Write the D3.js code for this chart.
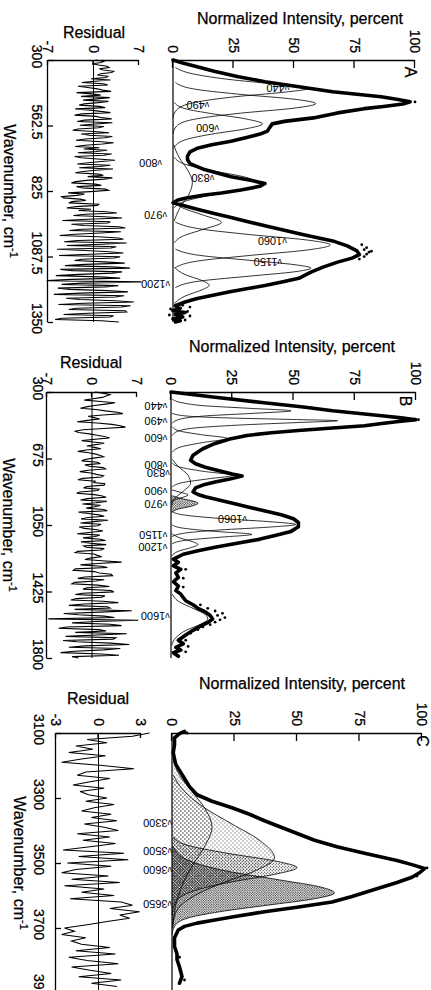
<!DOCTYPE html>
<html lang="en">
  <head>
    <meta charset="UTF-8" />
    <title>Raman band fits, panels A-C</title>
    <script src="https://d3js.org/d3.v7.min.js"></script>
    <style>
      html, body { margin: 0; padding: 0; background: #fff; }
      text { font-family: "Liberation Sans", Arial, sans-serif; fill: #000; }
    </style>
  </head>
  <body>
    <svg id="fig" width="431" height="990"></svg>
    <script>
      // ---- data (wavenumber, normalized intensity) ----
      const intTicks = [0, 25, 50, 75, 100];
      const wnTicksA = [300, 562.5, 825, 1087.5, 1350];
      const wnTicksB = [300, 675, 1050, 1425, 1800];
      const wnTicksC = [3100, 3300, 3500, 3700, 3900];

      const specA = [[300,0],[312,4],[327,10],[345,17],[367,27],[387,38],[407,52],[427,66],[437,76],[447,86],[458,93],[467,98],[476,95],[486,87],[495,79],[512,68],[532,58],[546,46],[556,41],[570,40],[585,39],[597,36],[612,30],[626,24],[640,16],[654,10],[668,7],[685,6],[700,6],[715,7],[727,10],[739,13],[755,19],[768,24],[782,32],[795,38],[806,36],[821,28],[833,20],[841,13],[852,6],[861,2],[872,0],[885,5],[898,10],[915,17],[931,24],[948,31],[964,38],[982,46],[1000,54],[1025,66],[1045,72],[1065,76],[1080,77],[1094,74],[1110,68],[1130,62],[1150,57],[1175,52],[1190,45],[1204,38],[1216,31],[1228,24],[1242,17],[1256,10],[1270,5],[1285,1],[1295,3],[1305,0],[1312,5],[1320,1],[1330,4],[1338,0],[1345,3],[1350,1]];
      const dotsA = [[468,100],[1040,78],[1052,80],[1060,79],[1070,81],[1078,80],[1088,79],[1098,77],[1066,82],[1283,4],[1290,7],[1300,2],[1308,6],[1318,3],[1326,7],[1334,2],[1342,5],[1298,-1],[1322,-1.5]];

      const specB = [[300,0],[330,18],[361,38],[385,54],[406,66],[420,76],[434,86],[446,94],[456,100],[466,93],[478,86],[490,79],[503,66],[517,52],[530,41],[545,31],[565,24],[590,18],[620,13],[657,9],[685,8],[705,10],[724,14],[745,20],[762,25],[774,29],[790,24],[807,18],[825,13],[841,10],[863,9],[878,11],[891,14],[910,20],[930,26],[947,31],[970,38],[992,45],[1015,50],[1036,52],[1060,52],[1086,49],[1110,42],[1131,36],[1153,27],[1175,18],[1195,11],[1215,5],[1243,1],[1260,3],[1280,1],[1300,4],[1320,2],[1345,3],[1370,1],[1395,3],[1420,2],[1440,4],[1460,5],[1477,6],[1500,9],[1520,11],[1540,14],[1560,16],[1580,17],[1600,15],[1620,12],[1644,9],[1670,6],[1700,3],[1720,5],[1740,2],[1755,4],[1770,1],[1790,3]];
      const dotsB = [[456,101],[1500,12],[1520,15],[1535,18],[1548,21],[1560,19],[1572,22],[1585,20],[1598,18],[1612,16],[1625,13],[1640,11],[1660,8],[1700,6],[1735,7],[1765,6],[1300,6],[1350,5],[1400,5]];

      const specC = [[3095,5],[3102,3],[3115,1],[3137,1],[3160,0.5],[3180,1],[3197,1.5],[3215,3],[3240,5],[3265,7],[3290,10],[3310,16],[3330,24],[3350,31],[3370,37],[3400,47],[3430,57],[3450,66],[3470,77],[3492,90],[3505,96],[3517,101],[3530,99],[3544,96],[3560,90],[3584,80],[3603,72],[3620,64],[3636,50],[3650,37],[3666,24],[3677,16],[3685,10],[3695,5],[3706,2.5],[3730,1],[3757,1],[3780,2],[3797,2],[3820,3],[3849,4],[3870,3]];
      const dotsC = [[3515,102],[3540,98],[3100,6],[3860,5],[3790,3]];

      // fitted components
      const a440 = [[330,1],[355,8],[380,25],[398,44],[414,56],[430,45],[447,26],[470,9],[500,1.5],[530,0]];
      const a490 = [[390,1],[415,8],[437,27],[457,50],[475,59],[493,50],[513,28],[537,9],[565,1.5],[595,0]];
      const a600 = [[470,0.5],[495,5],[515,16],[536,30],[556,37],[576,30],[597,16],[620,5],[650,0.5]];
      const a800 = [[690,0.5],[718,5],[743,16],[770,30],[796,36],[820,29],[843,15],[866,5],[892,0.5]];
      const a830 = [[640,0.3],[690,2.5],[740,6],[790,8],[840,6.5],[890,3],[945,0.5]];
      const a970 = [[868,0.5],[893,4],[920,12],[951,20],[980,12],[1006,4],[1032,0.5]];
      const a1060 = [[950,1],[975,10],[1000,32],[1021,55],[1041,65],[1062,55],[1083,32],[1106,10],[1132,1]];
      const a1150 = [[1058,1],[1083,11],[1104,33],[1120,50],[1134,57],[1149,50],[1165,33],[1186,11],[1212,1]];
      const a1200 = [[1130,0.5],[1160,5],[1184,12],[1203,15],[1221,12],[1246,5],[1276,0.5]];

      const b440 = [[340,0.5],[362,5],[378,14],[392,32],[406,49],[420,34],[434,15],[452,4],[476,0.5]];
      const b490 = [[420,0.5],[435,6],[447,25],[455,50],[462,68],[472,52],[485,30],[500,12],[520,3],[545,0.5]];
      const b600 = [[495,0.5],[518,3],[540,12],[562,23],[585,13],[610,4],[640,0.5]];
      const b800 = [[700,0.5],[725,4],[747,13],[770,25],[790,15],[810,5],[835,0.5]];
      const b830 = [[680,0.5],[720,3],[770,7],[815,8],[860,5],[900,1.5],[940,0.3]];
      const b900 = [[852,0.3],[866,4],[880,7],[893,5],[905,2],[917,0.3]];
      const b970 = [[885,0.5],[900,4],[915,9],[928,11],[945,8],[960,3],[978,0.3]];
      const b1060 = [[975,0.5],[995,6],[1015,22],[1033,42],[1047,51],[1062,40],[1078,20],[1095,6],[1115,0.5]];
      const b1150 = [[1050,0.5],[1068,5],[1086,18],[1103,33],[1119,20],[1136,6],[1156,0.5]];
      const b1200 = [[1100,0.5],[1125,4],[1145,9],[1160,11],[1178,8],[1198,3],[1225,0.3]];
      const b1600 = [[1440,0.5],[1480,3],[1520,9],[1555,14],[1580,15],[1610,12],[1645,6],[1685,2],[1730,0.3]];

      const c3300 = [[3180,0.5],[3230,3],[3280,8],[3330,13],[3390,16],[3450,13],[3510,8],[3570,4],[3630,1.5],[3700,0.3]];
      const c3500 = [[3230,0.5],[3280,5],[3330,13],[3380,24],[3430,35],[3484,41],[3525,33],[3565,19],[3605,8],[3645,2],[3690,0.3]];
      const c3600 = [[3420,0.5],[3445,6],[3470,22],[3495,42],[3514,50],[3535,41],[3558,24],[3585,9],[3620,1.5],[3660,0]];
      const c3650 = [[3450,0.5],[3490,6],[3525,22],[3552,43],[3575,60],[3592,65],[3610,57],[3630,38],[3650,19],[3670,6],[3695,1],[3720,0]];

      // residuals, evenly spaced in wavenumber between the first and last value
      const resA = [0.3,1.6,1.2,-0.2,0.8,2.1,2.4,0.9,1.5,3.1,2.8,1.1,0.6,2.2,1.9,-0.4,2.6,0.2,
        -1.8,1.5,2.2,-2.4,-0.9,0.6,1.4,2.7,-2.6,-0.3,1.1,-1.9,2.5,0.5,-1.6,2.3,0.7,-1.4,-2.2,0.9,1.8,-2.8,-0.5,1.1,
        2.6,-1.7,-2.9,0.4,1.2,2.8,-1.4,-2.5,2.9,0.3,-2.1,1.6,0.8,-2.4,-3.2,0.1,2.4,-1.9,-0.6,2.9,1.7,-1.2,-2.7,0.7,3.1,1.4,-1.3,-2.8,0.9,-1.5,
        2.1,0.4,-2.4,2.8,1.6,-2.9,-1.9,0.6,3.3,1.2,-0.8,-2.5,2.6,0.9,-2.2,3.0,0.4,-1.6,-2.8,0.8,1.5,-0.9,2.9,1.7,-1.1,-2.7,-3.4,0.3,1.2,-2.6,-1.7,1.9,2.3,-0.5,
        -3.9,-1.4,-2.6,-4.9,-4.6,-2.1,-1.2,-3.3,-3.8,0.8,0.6,-2.7,-4.1,-0.4,-2.3,1.9,
        3.6,-1.2,-3.1,1.7,4.4,-0.9,-4.8,2.6,2.2,-3.4,-1.5,3.9,4.9,-1.8,-3.7,4.2,1.1,-2.9,-5.2,0.7,3.8,4.6,-2.4,-4.5,5.1,1.3,-4.1,3.5,2.7,-5.6,-1.2,2.4,4.6,-0.6,-5.3,4.1,3.2,-1.8,-2.9,1.6,
        4.8,-1.3,-4.4,2.7,5.6,-5.1,-3.2,4.4,2.9,-2.2,-5.8,0.9,4.1,-3.3,-7.2,7.4,-1.6,-4.9,3.8,1.8,-5.5,-3.6,2.1,5.3,-1.9,-6.1,4.7,3.4,-4.2,-2.1,3.3,6.2,-1.4,-5.4,5.7,4.3,-2.6,-3.8,4.9,5.1,-0.9,-4.6,3.1,2.6,-4.8,-5.9,1.2,3.9];
      const resB = [0.5,1.9,2.8,2.2,1.6,0.1,-1.2,1.4,3.6,2.1,0.4,-0.9,-1.8,0.6,2.1,3.9,4.8,1.7,-0.6,0.3,1.2,-0.7,-2.3,0.8,3.1,4.4,5.2,1.8,-1.4,-2.6,-2.1,-0.4,0.8,1.9,2.7,0.5,-1.6,0.2,1.9,0.6,-0.8,0.4,1.4,-0.9,-2.2,-0.5,0.6,1.3,1.8,0.2,-1.1,
        -1.6,0.9,1.2,-1.1,-0.4,1.7,2.1,-0.6,-1.9,-0.2,0.7,1.8,1.5,-1.4,-2.2,0.5,0.3,2.0,1.9,-0.8,-1.3,1.1,0.9,-1.9,-2.4,0.4,1.6,2.2,-0.7,-1.8,2.3,0.6,-1.5,1.3,0.4,-0.9,1.8,2.4,-2.1,-0.6,1.1,1.9,-0.6,-1.7,2.5,0.3,-1.8,1.4,0.9,-2.0,-1.2,0.8,1.7,-0.5,-2.3,1.2,0.5,-1.4,1.3,2.1,-1.7,-0.2,2.2,-1.3,-0.9,1.9,1.4,-2.2,-2.6,0.3,0.8,1.5,-0.3,-1.1,1.6,
        4.6,0.8,-1.8,1.5,2.4,-2.6,-2.9,0.4,1.1,3.0,3.2,-1.1,-2.2,1.9,0.6,-2.7,-3.1,0.9,2.7,-0.8,-1.4,2.9,3.4,-1.5,-2.6,2.0,1.5,-2.4,-3.3,
        1.7,4.1,-1.2,-3.6,2.4,2.8,-2.7,6.2,1.3,-4.4,-2.1,1.9,3.5,-6.8,7.2,0.6,-3.1,2.8,4.6,-3.9,-5.2,1.1,2.2,-2.6,5.4,0.8,-4.1,3.7,3.3,-4.5,-2.4,2.9,5.8,-1.1,-3.6,4.4,1.8,-2.7,-4.9,1.5,4.2,-3.1,-2.1];
      const resC = [3.6,2.4,-0.8,0.6,
        -1.6,-0.4,-2.1,0.5,-1.2,-2.6,0.3,2.5,-0.9,-1.5,0.8,-0.6,-1.8,0.4,-1.3,-0.7,
        0.6,-0.9,1.1,-0.3,-1.2,0.9,-0.5,1.3,-1.0,0.4,
        1.4,-1.5,0.8,-1.1,1.2,-0.6,
        -2.5,1.8,-1.4,2.1,-2.2,0.9,-1.6,
        -2.6,0.7,-1.9,1.5,-2.4,0.4,-1.2,1.1,-2.0,
        1.6,2.4,0.8,2.9,1.5,2.2,0.6,-0.8,
        -2.4,-1.7,-2.6,-0.9,-1.9,-1.2,
        0.8,-1.6,1.2,-2.1,-0.8,1.4,-1.9,-0.6,0.9,-1.4,1.6,-0.5,1.3];

      // band labels: name, wavenumber, intensity of the label anchor
      const labelsA = [["440",412,48],["490",480,15],["600",573,19],["800",713,-4.5],["830",773,17],["970",921,-2.5],["1060",1025,47],["1150",1110,45],["1200",1198,-1.2]];
      const labelsB = [["440",379,-1.5],["490",464,-1.5],["600",559,-1.5],["800",712,-1.5],["830",757,-0.5],["900",858,-1.5],["970",932,-1.5],["1060",1016,31],["1150",1106,-1.5],["1200",1174,-1.5],["1600",1563,-0.5]];
      const labelsC = [["3300",3377,0],["3500",3462,0],["3600",3520,0],["3650",3626,0]];

      // ---- layout (picture coordinates, before rotation) ----
      const panels = [
        { letter: "A", spec: specA, dots: dotsA, labels: labelsA, res: resA, resSpan: [300, 1350],
          comps: [[a440], [a490], [a600], [a800], [a830], [a970], [a1060], [a1150], [a1200]],
          wnTicks: wnTicksA, wnDomain: [300, 1350], wnRange: [60, 322], intRange: [173, 415],
          resDomain: [-7, 7], resTicks: [-7, 0, 7], resRange: [48, 139], wnPad: 6, wnTitleX: 4,
          titleX: 300, titleY: 24, resTitleX: 94, resTitleY: 38, letterX: 410, letterY: 72 },
        { letter: "B", spec: specB, dots: dotsB, labels: labelsB, res: resB, resSpan: [300, 1800],
          comps: [[b440], [b490], [b600], [b800], [b830], [b900], [b970, "dense"], [b1060], [b1150], [b1200], [b1600]],
          wnTicks: wnTicksB, wnDomain: [300, 1800], wnRange: [392, 658], intRange: [171, 416],
          resDomain: [-7, 7], resTicks: [-7, 0, 7], resRange: [47, 137], wnPad: 4, wnTitleX: 3,
          titleX: 292, titleY: 352, resTitleX: 91, resTitleY: 368, letterX: 405, letterY: 401 },
        { letter: "C", spec: specC, dots: dotsC, labels: labelsC, res: resC, resSpan: [3100, 3880],
          comps: [[c3300, "light"], [c3500, "light"], [c3600, "mid"], [c3650, "dense"]],
          wnTicks: wnTicksC, wnDomain: [3100, 3900], wnRange: [733, 993], intRange: [172, 422],
          resDomain: [-3, 3], resTicks: [-3, 0, 3], resRange: [56, 141], wnPad: 12, wnTitleX: 14,
          titleX: 302, titleY: 689, resTitleX: 98, resTitleY: 704, letterX: 422, letterY: 741 }
      ];

      const svg = d3.select("#fig");
      const defs = svg.append("defs");

      function dotPattern(id, size, spots, r) {
        const p = defs.append("pattern").attr("id", id)
          .attr("width", size).attr("height", size)
          .attr("patternUnits", "userSpaceOnUse");
        spots.forEach(s => p.append("circle").attr("cx", s[0]).attr("cy", s[1]).attr("r", r).attr("fill", "#000"));
      }
      dotPattern("light", 4, [[1, 1], [3, 3]], 0.5);
      dotPattern("mid", 3, [[0.75, 0.75], [2.25, 2.25]], 0.55);
      dotPattern("dense", 2.4, [[0.6, 0.6], [1.8, 1.8]], 0.6);

      function styleAxis(sel, size) {
        sel.attr("font-size", size).attr("font-family", '"Liberation Sans", Arial, sans-serif');
        sel.selectAll("path, line").attr("stroke", "#000").attr("stroke-width", 1.3);
        sel.selectAll("text").attr("fill", "#000").attr("stroke", "#000").attr("stroke-width", 0.25);
      }

      panels.forEach(drawPanel);

      function drawPanel(p) {
        // the figure is drawn in its own frame and turned a quarter turn clockwise
        const g = svg.append("g").attr("transform", "rotate(90)");
        const x = d3.scaleLinear().domain(p.wnDomain).range(p.wnRange);
        const y = d3.scaleLinear().domain([0, 100]).range([-p.intRange[0], -p.intRange[1]]);
        const r = d3.scaleLinear().domain(p.resDomain).range([-p.resRange[0], -p.resRange[1]]);
        const x0 = p.wnRange[0];
        const resStep = (p.resSpan[1] - p.resSpan[0]) / (p.res.length - 1);

        // component fills and outlines
        const area = d3.area().x(d => x(d[0])).y0(y(0)).y1(d => y(d[1])).curve(d3.curveMonotoneX);
        const line = d3.line().x(d => x(d[0])).y(d => y(d[1])).curve(d3.curveMonotoneX);
        p.comps.filter(c => c[1]).forEach(c => {
          g.append("path").attr("d", area(c[0])).attr("fill", `url(#${c[1]})`).attr("stroke", "none");
        });
        p.comps.forEach(c => {
          g.append("path").attr("d", line(c[0])).attr("fill", "none")
            .attr("stroke", "#000").attr("stroke-width", 0.8);
        });

        // baselines
        g.append("line").attr("x1", x.range()[0]).attr("x2", x.range()[1])
          .attr("y1", y(0)).attr("y2", y(0)).attr("stroke", "#000").attr("stroke-width", 1.2);
        g.append("line").attr("x1", x.range()[0]).attr("x2", x.range()[1])
          .attr("y1", r(0)).attr("y2", r(0)).attr("stroke", "#000").attr("stroke-width", 1);

        // measured spectrum
        g.append("path")
          .attr("d", d3.line().x(d => x(d[0])).y(d => y(d[1]))(p.spec))
          .attr("fill", "none").attr("stroke", "#000").attr("stroke-width", 3.6)
          .attr("stroke-linejoin", "round").attr("stroke-linecap", "round");
        g.selectAll("circle.dot").data(p.dots).join("circle").attr("class", "dot")
          .attr("cx", d => x(d[0])).attr("cy", d => y(d[1])).attr("r", 1.4).attr("fill", "#000");

        // residual
        g.append("path")
          .attr("d", d3.line().x((d, i) => x(p.resSpan[0] + i * resStep)).y(d => r(d))(p.res))
          .attr("fill", "none").attr("stroke", "#000").attr("stroke-width", 1.1);

        // axes
        g.append("g").attr("transform", `translate(${x0},0)`)
          .call(d3.axisLeft(y).tickValues(intTicks).tickSizeInner(-8).tickSizeOuter(0).tickPadding(7))
          .call(styleAxis, 14);
        g.append("g").attr("transform", `translate(${x0},0)`)
          .call(d3.axisLeft(r).tickValues(p.resTicks).tickSizeInner(-5).tickSizeOuter(0).tickPadding(7)
            .tickFormat(d => (d < 0 ? "-" + Math.abs(d) : String(d))))
          .call(styleAxis, 14);
        g.append("g").attr("transform", `translate(0,${-p.resRange[0]})`)
          .call(d3.axisBottom(x).tickValues(p.wnTicks).tickSizeInner(-5).tickSizeOuter(0).tickPadding(p.wnPad)
            .tickFormat(d => String(d)))
          .call(styleAxis, 14)
          .selectAll("text").attr("dx", -4);

        // titles
        const titles = g.append("g").attr("stroke", "#000").attr("stroke-width", 0.25);
        titles.append("text").attr("transform", `translate(${p.titleY},${-p.titleX}) rotate(-90)`)
          .attr("text-anchor", "middle").attr("font-size", 16).text("Normalized Intensity, percent");
        titles.append("text").attr("transform", `translate(${p.resTitleY},${-p.resTitleX}) rotate(-90)`)
          .attr("text-anchor", "middle").attr("font-size", 16).text("Residual");
        const wt = titles.append("text").attr("x", (p.wnRange[0] + p.wnRange[1]) / 2).attr("y", -p.wnTitleX)
          .attr("text-anchor", "middle").attr("font-size", 16);
        wt.append("tspan").text("Wavenumber, cm");
        wt.append("tspan").attr("font-size", 11).attr("dy", -6).text("-1");
        titles.append("text").attr("x", p.letterY).attr("y", -p.letterX)
          .attr("text-anchor", "middle").attr("dominant-baseline", "central")
          .attr("font-size", 16).text(p.letter);

        // band labels, upside down in the picture
        p.labels.forEach(l => {
          const t = g.append("text")
            .attr("transform", `translate(${x(l[1])},${y(l[2])}) rotate(90)`)
            .attr("dominant-baseline", "central").attr("font-size", 11);
          t.append("tspan").attr("font-size", 9).text("ν");
          t.append("tspan").text(l[0]);
        });
      }
    </script>
  </body>
</html>
